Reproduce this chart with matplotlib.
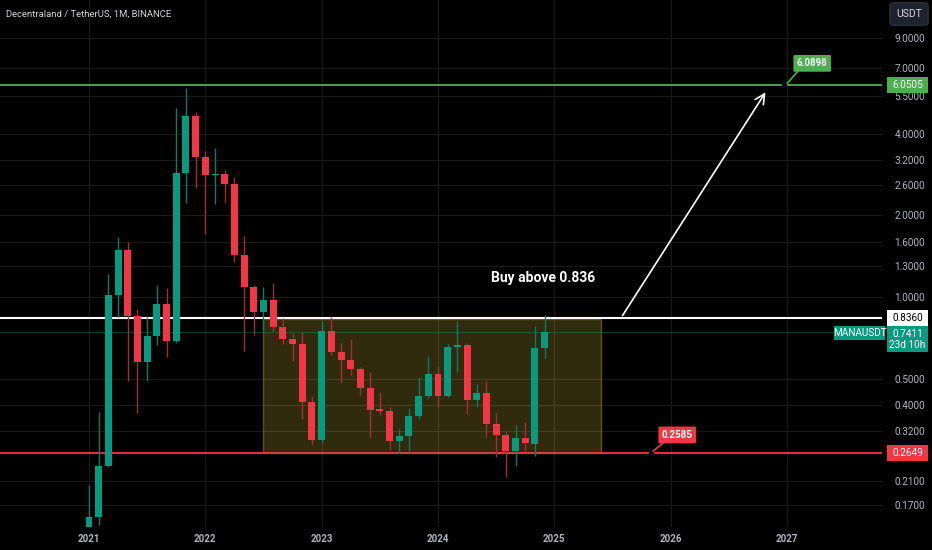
import numpy as np
import matplotlib.pyplot as plt
from matplotlib.patches import Rectangle
from matplotlib.ticker import FixedLocator, NullLocator

plt.rcParams['font.family'] = ['Roboto', 'DejaVu Sans']

# 월봉 데이터 (2021-01 ~ 2024-12), 차트에서 읽은 값
months = [f"{y}-{m:02d}" for y in range(2021, 2025) for m in range(1, 13)]
opens = [0.142, 0.154, 0.237, 1.020, 1.491, 0.851, 0.577, 0.718, 0.942, 0.690, 2.875, 4.655,
         3.278, 2.819, 2.850, 2.612, 1.429, 1.091, 0.880, 0.975, 0.772, 0.698, 0.671, 0.411,
         0.297, 0.749, 0.625, 0.586, 0.542, 0.460, 0.385, 0.380, 0.294, 0.308, 0.364, 0.431,
         0.520, 0.431, 0.656, 0.667, 0.416, 0.443, 0.339, 0.310, 0.269, 0.301, 0.287, 0.650]
highs = [0.203, 0.375, 1.216, 1.669, 1.600, 0.903, 0.846, 1.107, 1.079, 4.982, 5.890, 4.816,
         3.458, 3.556, 2.942, 2.780, 1.679, 1.107, 1.091, 1.129, 0.833, 0.735, 0.743, 0.427,
         0.818, 0.842, 0.678, 0.700, 0.550, 0.530, 0.447, 0.392, 0.325, 0.388, 0.505, 0.606,
         0.550, 0.671, 0.818, 0.678, 0.478, 0.490, 0.372, 0.320, 0.337, 0.347, 0.782, 0.858]
lows = [0.132, 0.144, 0.236, 0.844, 0.490, 0.372, 0.490, 0.665, 0.598, 0.678, 2.223, 2.525,
        1.708, 2.204, 2.228, 1.343, 0.632, 0.724, 0.756, 0.743, 0.671, 0.582, 0.356, 0.284,
        0.292, 0.611, 0.483, 0.516, 0.435, 0.305, 0.367, 0.273, 0.265, 0.271, 0.354, 0.423,
        0.394, 0.427, 0.530, 0.370, 0.394, 0.305, 0.256, 0.217, 0.238, 0.269, 0.258, 0.597]
closes = [0.154, 0.237, 1.020, 1.491, 0.851, 0.577, 0.718, 0.942, 0.690, 2.875, 4.655, 3.278,
          2.819, 2.850, 2.612, 1.429, 1.091, 0.880, 0.975, 0.772, 0.698, 0.671, 0.411, 0.297,
          0.749, 0.625, 0.586, 0.542, 0.460, 0.383, 0.380, 0.294, 0.308, 0.364, 0.431, 0.520,
          0.431, 0.652, 0.667, 0.417, 0.441, 0.339, 0.310, 0.269, 0.301, 0.289, 0.650, 0.7411]

years = [2021, 2022, 2023, 2024, 2025, 2026, 2027]
price_ticks = [9.0, 7.0, 5.5, 4.0, 3.2, 2.6, 2.0, 1.6, 1.3, 1.0, 0.5, 0.4, 0.32, 0.21, 0.17]

target = 6.0505
buy_level = 0.836
support = 0.2649
last_price = 0.7411
note_top = 6.0898
note_bottom = 0.2585

UP = '#089981'
DOWN = '#f23645'
GRID = '#1a1a1a'
TEXT = '#b2b5be'
PX_DEC = 271.0  # 로그축 1 decade 당 픽셀

x = np.arange(len(months))
o = np.array(opens)
c = np.array(closes)
up = c >= o

fig = plt.figure(figsize=(9.32, 5.5), dpi=100, facecolor='black')
ax = fig.add_axes([0, 23 / 550, 882 / 932, 527 / 550])
ax.set_facecolor('black')
ax.set_yscale('log')
ax.set_xlim(-9.18, 81.8)
ax.set_ylim(0.1416, 12.47)

# 그리드
for yr in years:
    ax.axvline((yr - 2021) * 12, color=GRID, lw=0.8, zorder=0)
for p in price_ticks:
    ax.axhline(p, color=GRID, lw=0.8, zorder=0)

# 박스 (횡보 구간)
ax.add_patch(Rectangle((17.9, support), 52.8 - 17.9, buy_level * 0.995 - support,
                       facecolor=(0.95, 0.85, 0.25, 0.2), edgecolor=(0.9, 0.75, 0.2, 0.35),
                       lw=1, zorder=1))

# 수평선
ax.axhline(target, color='#4caf50', lw=1.3, zorder=2)
ax.axhline(buy_level, color='white', lw=1.5, zorder=2)
ax.axhline(support, color=DOWN, lw=1.3, zorder=2)
ax.axhline(last_price, color=UP, lw=0.6, alpha=0.45, zorder=2)

# 캔들
wick_col = np.where(up, '#0b7a66', '#a52d38')
ax.vlines(x, lows, highs, colors=wick_col, lw=1, zorder=3)
body_col = np.where(up, UP, DOWN)
bottom = np.minimum(o, c)
height = np.maximum(np.abs(c - o), bottom * 0.012)
ax.bar(x, height, bottom=bottom, width=0.72, color=body_col, zorder=4)

# 화살표와 텍스트
ax.annotate('', xy=(69.94, 5.805), xytext=(54.87, buy_level),
            arrowprops=dict(arrowstyle='->,head_length=0.7,head_width=0.35', color='white', lw=1.2),
            zorder=5)
ax.text(46.8, 1.175, 'Buy above 0.836', color='white', fontsize=10, fontweight='bold',
        ha='center', va='center', zorder=5)

# 가격 메모 라벨
ax.plot([71.7], [target], 'o', color='black', ms=3, zorder=5)
ax.plot([72.03, 73.13], [6.146, 6.82], color='#4caf50', lw=1.2, zorder=5)
ax.text(74.6, 7.28, f'{note_top:.4f}', color='white', fontsize=7, fontweight='bold',
        ha='center', va='center', zorder=6,
        bbox=dict(boxstyle='round,pad=0.35,rounding_size=0.15', fc='#4caf50', ec='none'))
ax.plot([58.0], [support], 'o', color='black', ms=3, zorder=5)
ax.plot([58.2, 59.24], [0.270, 0.2894], color=DOWN, lw=1.2, zorder=5)
ax.text(60.68, 0.3096, f'{note_bottom:.4f}', color='white', fontsize=7, fontweight='bold',
        ha='center', va='center', zorder=6,
        bbox=dict(boxstyle='round,pad=0.35,rounding_size=0.15', fc=DOWN, ec='none'))

# 축 설정
for s in ax.spines.values():
    s.set_visible(False)
ax.yaxis.tick_right()
ax.yaxis.set_major_locator(FixedLocator(price_ticks))
ax.yaxis.set_minor_locator(NullLocator())
ax.set_yticklabels([f'{p:.4f}' for p in price_ticks])
ax.tick_params(axis='y', length=0, pad=9, labelsize=7.2, labelcolor=TEXT)
ax.set_xticks([(yr - 2021) * 12 for yr in years])
ax.set_xticklabels([str(yr) for yr in years])
ax.tick_params(axis='x', length=0, pad=5, labelsize=7, labelcolor=TEXT)
for lbl in ax.get_xticklabels():
    lbl.set_fontweight('bold')

# 오른쪽 가격 태그 (픽셀 크기 고정 박스)
yt = ax.get_yaxis_transform()


def price_tag(v, text, fc, tc, x0=887, x1=928, h=16, dy=0):
    mid = v * 10 ** (-dy / PX_DEC)
    lo = mid * 10 ** (-h / 2 / PX_DEC)
    hi = mid * 10 ** (h / 2 / PX_DEC)
    ax.add_patch(Rectangle((x0 / 882, lo), (x1 - x0) / 882, hi - lo, transform=yt,
                           fc=fc, ec='none', clip_on=False, zorder=9))
    ax.text((x0 + x1) / 2 / 882, mid, text, color=tc, fontsize=7.2, ha='center', va='center',
            linespacing=1.15, transform=yt, clip_on=False, zorder=10)


price_tag(target, f'{target:.4f}', '#4caf50', 'white')
price_tag(buy_level, f'{buy_level:.4f}', 'white', 'black')
price_tag(last_price, f'{last_price:.4f}\n23d 10h', UP, 'white', h=26, dy=7)
price_tag(last_price, 'MANAUSDT', UP, 'white', x0=834, x1=885, h=14, dy=1)
price_tag(support, f'{support:.4f}', DOWN, 'white')

# 제목, USDT 버튼
fig.text(6 / 932, 1 - 14 / 550, 'Decentraland / TetherUS, 1M, BINANCE', color='#d1d4dc',
         fontsize=6.8, ha='left', va='center')
fig.text(909 / 932, 1 - 14 / 550, 'USDT', color='#d1d4dc', fontsize=7.5, ha='center', va='center',
         bbox=dict(boxstyle='round,pad=0.6,rounding_size=0.3', fc='#1e222d', ec='#2a2e39'))

fig.savefig('out.png', dpi=100, facecolor='black')
